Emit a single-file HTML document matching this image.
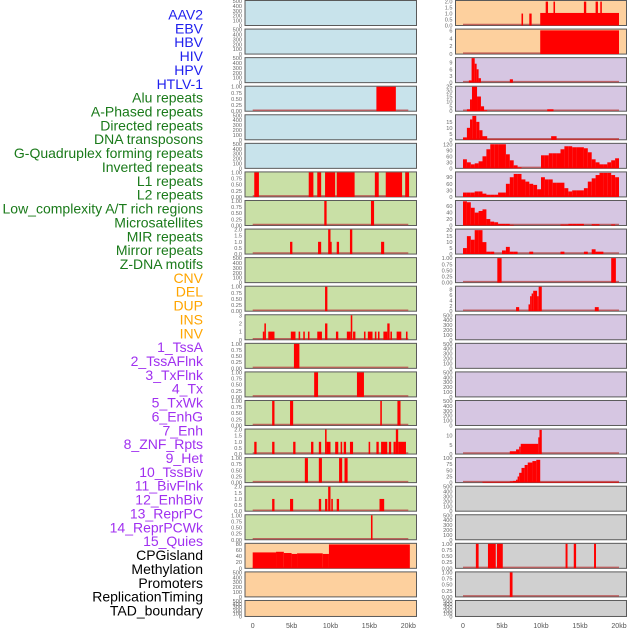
<!DOCTYPE html>
<html><head><meta charset="utf-8"><style>
html,body{margin:0;padding:0;background:#fff;}
svg{display:block;font-family:"Liberation Sans",sans-serif;}
</style></head><body>
<svg id="chart" width="630" height="630" xmlns="http://www.w3.org/2000/svg"></svg>
<script>
// ---------- DATA ----------
const trackLabels = ["AAV2","EBV","HBV","HIV","HPV","HTLV-1","Alu repeats","A-Phased repeats","Directed repeats","DNA transposons","G-Quadruplex forming repeats","Inverted repeats","L1 repeats","L2 repeats","Low_complexity A/T rich regions","Microsatellites","MIR repeats","Mirror repeats","Z-DNA motifs","CNV","DEL","DUP","INS","INV","1_TssA","2_TssAFlnk","3_TxFlnk","4_Tx","5_TxWk","6_EnhG","7_Enh","8_ZNF_Rpts","9_Het","10_TssBiv","11_BivFlnk","12_EnhBiv","13_ReprPC","14_ReprPCWk","15_Quies","CPGisland","Methylation","Promoters","ReplicationTiming","TAD_boundary"];
const labelGroups = [6,13,5,15,5];
const xTickValues = [0,5,10,15,20];
const xTickLabels = ["0","5kb","10kb","15kb","20kb"];
const emptyTicks = [0,100,200,300,400,500];
const unitTicks = [0,0.25,0.5,0.75,1.0];
const unitTickLabels = ["0.00","0.25","0.50","0.75","1.00"];
const twoTicks = [0,0.5,1,1.5,2];
const twoTickLabels = ["0.0","0.5","1.0","1.5","2.0"];

// left column: interval bars [startKb, endKb, value]
const leftBars3 = [[15.9,18.4,1]];
const leftBars6 = [[0.2,0.8,1],[7.2,7.8,1],[8.3,8.8,1],[9.3,10.6,1],[10.8,13.1,1],[15.7,16.2,1],[17.1,19.2,1],[19.6,20.1,1]];
const leftBars7 = [[9.2,9.5,1],[15.2,15.6,1]];
const leftBars8 = [[4.8,5.1,1],[8.4,8.8,1],[9.7,10.0,2],[10.0,10.1,1],[10.8,11.1,1],[12.5,12.8,2],[16.5,16.9,1]];
const leftBars10 = [[9.3,9.6,1]];
const leftBars11 = [[1.3,1.5,1],[1.5,1.7,2],[2.0,2.8,1],[4.9,5.5,1],[5.9,6.1,1],[6.5,6.7,1],[7.1,7.3,1],[8.3,8.9,1],[9.3,9.6,2],[10.7,11.0,1],[12.1,12.6,1],[12.6,12.8,3],[12.9,13.2,1],[14.3,14.5,1],[14.8,15.4,1],[15.7,15.9,1],[16.1,16.3,1],[16.8,17.3,1],[17.3,17.6,2],[17.7,17.9,1],[18.5,19.1,1],[19.7,19.9,1]];
const leftBars12 = [[5.3,6.0,1]];
const leftBars13 = [[7.9,8.4,1],[13.4,14.3,1]];
const leftBars14 = [[2.5,2.8,1],[4.8,5.2,1],[16.4,16.6,1],[18.6,19.0,1]];
const leftBars15 = [[0.2,0.5,1],[2.5,2.8,1],[5.2,5.5,1],[7.5,7.8,1],[8.5,8.8,1],[9.3,9.5,2],[9.5,10.0,1],[10.6,11.0,1],[11.3,11.5,1],[11.7,12.0,1],[12.5,12.9,1],[14.9,15.1,1],[15.9,16.2,1],[16.5,17.3,1],[17.5,17.8,1],[18.1,18.4,1],[18.4,18.7,2],[18.7,19.7,1]];
const leftBars16 = [[6.7,7.1,1],[8.5,8.9,1],[11.1,11.5,1],[11.8,12.2,1]];
const leftBars17 = [[2.5,2.8,1],[4.8,5.2,1],[8.5,8.8,1],[9.3,9.6,1],[9.7,10.0,2],[10.1,10.3,1],[10.8,11.1,1],[16.3,16.9,1]];
const leftBars18 = [[15.2,15.4,1]];
const leftBars19 = [[0,3,52],[3,4,54],[4,5,50],[5,5.7,47],[5.7,9,49],[9,9.8,47],[9.8,20.2,78]];

// right column
const rightBars0 = [[7.5,7.7,1],[8.5,8.8,1],[9.9,20,1.05],[10.6,10.9,2],[11.6,11.8,2],[15.5,15.8,2],[17.0,17.3,2],[17.6,17.8,2]];
const rightBars1 = [[9.9,20,6]];
const rightBars2 = [[0.75,1.1,1],[1.1,1.5,11],[1.5,1.75,8.5],[1.75,2.0,6],[2.0,2.3,2],[6.0,6.4,1.5]];
const rightBars3 = [[0.5,0.9,2],[0.9,1.15,12],[1.15,1.8,25],[1.8,2.3,15],[2.3,2.7,5],[2.7,3.1,1],[10.8,11.6,2]];
const rightBars4 = [[0,0.5,2],[0.5,0.9,10],[0.9,1.2,17],[1.2,1.7,20],[1.7,2.1,15],[2.1,2.5,8],[2.5,3.1,3],[3.1,20,0.3],[11.3,12.0,3]];
const rightBins5 = [45,30,20,25,35,60,95,120,120,120,120,70,40,15,5,0,0,0,0,0,65,65,75,75,75,95,110,110,105,105,105,100,80,45,30,20,20,30,40,50];
const rightBins6 = [20,20,20,25,25,15,10,10,10,20,20,60,90,105,105,80,70,60,55,35,90,80,80,65,65,65,40,25,30,30,30,40,70,85,100,110,110,110,100,90];
const rightBins7 = [75,72,55,40,45,50,20,12,10,5,5,5,2,0,0,0,0,0,0,0,0,0,0,0,0,3,3,5,5,5,5,0,0,4,4,0,0,0,3,0];
const rightBins8 = [5,15,12,20,20,10,2,2,0,0,3,6,2,2,0,0,0,2,0,0,0,0,0,0,0,2,0,0,0,0,0,2,0,4,2,2,0,0,0,0];
const rightBars9 = [[4.4,4.95,1],[19.0,19.6,1]];
const rightBars10 = [[6.8,7.2,1.5],[8.4,8.6,2.5],[8.6,8.8,5.5],[8.8,9.0,6.5],[9.0,9.5,7.5],[9.5,9.7,5.5],[9.7,10.1,9],[16.9,17.4,1.5]];
const rightBars15 = [[6.0,6.8,1.5],[6.8,7.2,2.5],[7.2,7.4,4],[7.4,9.65,5.5],[9.65,9.8,9],[9.8,10.1,13]];
const rightBars16 = [[2.5,6.0,3],[6.0,6.4,5],[6.4,6.8,7],[6.8,7.0,12],[7.0,7.2,25],[7.2,7.5,40],[7.5,7.9,60],[7.9,8.3,72],[8.3,8.9,82],[8.9,9.4,88],[9.4,9.9,93],[9.9,20,3]];
const rightBars19 = [[1.65,2.0,1],[3.2,4.2,1],[4.35,5.1,1],[13.15,13.4,1],[14.2,14.5,1],[16.8,17.05,1]];
const rightBars20 = [[6.0,6.35,1]];

// ---------- PANEL SETUP ----------
const BLUE="#c8e3eb", GREEN="#c9e0a6", ORANGE="#fdd09e", PURPLE="#d6c6e2", GRAY="#d0d0d0";
function binsToBars(b){return b.map((v,i)=>[i*0.5,i*0.5+0.5,v]);}
const E=null;
const leftPanels = [
 {bg:BLUE,d:E},{bg:BLUE,d:E},{bg:BLUE,d:E},
 {bg:BLUE,d:leftBars3,max:1,t:unitTicks,tl:unitTickLabels},
 {bg:BLUE,d:E},{bg:BLUE,d:E},
 {bg:GREEN,d:leftBars6,max:1,t:unitTicks,tl:unitTickLabels},
 {bg:GREEN,d:leftBars7,max:1,t:unitTicks,tl:unitTickLabels},
 {bg:GREEN,d:leftBars8,max:2,t:twoTicks,tl:twoTickLabels},
 {bg:GREEN,d:E},
 {bg:GREEN,d:leftBars10,max:1,t:unitTicks,tl:unitTickLabels},
 {bg:GREEN,d:leftBars11,max:3,t:[0,1,2,3],tl:["0","1","2","3"]},
 {bg:GREEN,d:leftBars12,max:1,t:unitTicks,tl:unitTickLabels},
 {bg:GREEN,d:leftBars13,max:1,t:unitTicks,tl:unitTickLabels},
 {bg:GREEN,d:leftBars14,max:1,t:unitTicks,tl:unitTickLabels},
 {bg:GREEN,d:leftBars15,max:2,t:twoTicks,tl:twoTickLabels},
 {bg:GREEN,d:leftBars16,max:1,t:unitTicks,tl:unitTickLabels},
 {bg:GREEN,d:leftBars17,max:2,t:twoTicks,tl:twoTickLabels},
 {bg:GREEN,d:leftBars18,max:1,t:unitTicks,tl:unitTickLabels},
 {bg:ORANGE,d:leftBars19,max:80,t:[0,20,40,60,80],tl:["0","20","40","60","80"]},
 {bg:ORANGE,d:E},{bg:ORANGE,d:E}
];
const rightPanels = [
 {bg:ORANGE,d:rightBars0,max:2.05,t:twoTicks,tl:twoTickLabels},
 {bg:ORANGE,d:rightBars1,max:6.2,t:[0,2,4,6],tl:["0","2","4","6"]},
 {bg:PURPLE,d:rightBars2,max:11,t:[0,3,6,9],tl:["0","3","6","9"]},
 {bg:PURPLE,d:rightBars3,max:25,t:[0,5,10,15,20,25],tl:["0","5","10","15","20","25"]},
 {bg:PURPLE,d:rightBars4,max:20.5,t:[0,5,10,15],tl:["0","5","10","15"]},
 {bg:PURPLE,d:binsToBars(rightBins5),max:122,t:[0,30,60,90,120],tl:["0","30","60","90","120"]},
 {bg:PURPLE,d:binsToBars(rightBins6),max:112,t:[0,30,60,90],tl:["0","30","60","90"]},
 {bg:PURPLE,d:binsToBars(rightBins7),max:76,t:[0,20,40,60],tl:["0","20","40","60"]},
 {bg:PURPLE,d:binsToBars(rightBins8),max:20.5,t:[0,5,10,15,20],tl:["0","5","10","15","20"]},
 {bg:PURPLE,d:rightBars9,max:1,t:unitTicks,tl:unitTickLabels},
 {bg:PURPLE,d:rightBars10,max:9,t:[0,2,4,6,8],tl:["0","2","4","6","8"]},
 {bg:PURPLE,d:E},{bg:PURPLE,d:E},{bg:PURPLE,d:E},{bg:PURPLE,d:E},
 {bg:PURPLE,d:rightBars15,max:13.2,t:[0,5,10],tl:["0","5","10"]},
 {bg:PURPLE,d:rightBars16,max:100,t:[0,25,50,75,100],tl:["0","25","50","75","100"]},
 {bg:GRAY,d:E},{bg:GRAY,d:E},
 {bg:GRAY,d:rightBars19,max:1,t:unitTicks,tl:unitTickLabels},
 {bg:GRAY,d:rightBars20,max:1,t:unitTicks,tl:unitTickLabels},
 {bg:GRAY,d:E}
];

// ---------- DRAW ----------
const NS="http://www.w3.org/2000/svg";
const svg=document.getElementById('chart');
function mk(tag,attrs,parent){const e=document.createElementNS(NS,tag);for(const k in attrs)e.setAttribute(k,attrs[k]);(parent||svg).appendChild(e);return e;}

// labels
const groupColors=["#2020ee","#1a7a1a","#ffa500","#a030f0","#000000"];
let li=0;
labelGroups.forEach((n,g)=>{for(let k=0;k<n;k++){
  const t=mk('text',{x:203,y:(19.5+li*13.86).toFixed(1),'text-anchor':'end','font-size':'14',fill:groupColors[g]});
  t.textContent=trackLabels[li];
  
  
  li++;
}});

const cols=[
 {panels:leftPanels,px0:245,px1:416.5,x0:252.7,x1:408.3,name:'left'},
 {panels:rightPanels,px0:455.5,px1:626.5,x0:463,x1:619,name:'right'}
];
cols.forEach(c=>{
  const xs=kb=>c.x0+(c.x1-c.x0)*kb/20;
  c.panels.forEach((p,i)=>{
    const top=0.5+i*28.57, h=(i===21)?16:25, bot=top+h;
    const g=mk('g',{});
    
    
    const r=mk('rect',{x:c.px0,y:top,width:c.px1-c.px0,height:h,fill:p.bg,stroke:'#5a5a5a','stroke-width':1},g);
    
    
    const ys=v=>bot-(h-0.5)*v/(p.max||500);
    const ticks=p.d?p.t:emptyTicks, tls=p.d?p.tl:emptyTicks.map(String);
    ticks.forEach((tv,k)=>{
      const tt=mk('text',{x:c.px0-3,y:(ys(tv)+2).toFixed(1),'text-anchor':'end','font-size':'5.6',fill:'#666'},g);
      tt.textContent=tls[k];
      
      
    });
    if(p.d){
      const bl=mk('line',{x1:xs(0),x2:xs(20),y1:bot-1,y2:bot-1,stroke:'#b84848','stroke-width':1.5,opacity:0.8},g);
      
      
      p.d.forEach(b=>{
        if(b[2]<=0)return;
        const y=Math.max(top,ys(b[2]));
        const w=Math.max(1.2,xs(b[1])-xs(b[0]));
        const br=mk('rect',{x:xs(b[0]).toFixed(2),y:y.toFixed(2),width:w.toFixed(2),height:(bot-y).toFixed(2),fill:'#ff0000'},g);
        
        
      });
    }
  });
  xTickValues.forEach((v,k)=>{
    const t=mk('text',{x:xs(v),y:628,'text-anchor':'middle','font-size':'7',fill:'#555'});
    t.textContent=xTickLabels[k];
    
    
  });
});
</script>
</body></html>
